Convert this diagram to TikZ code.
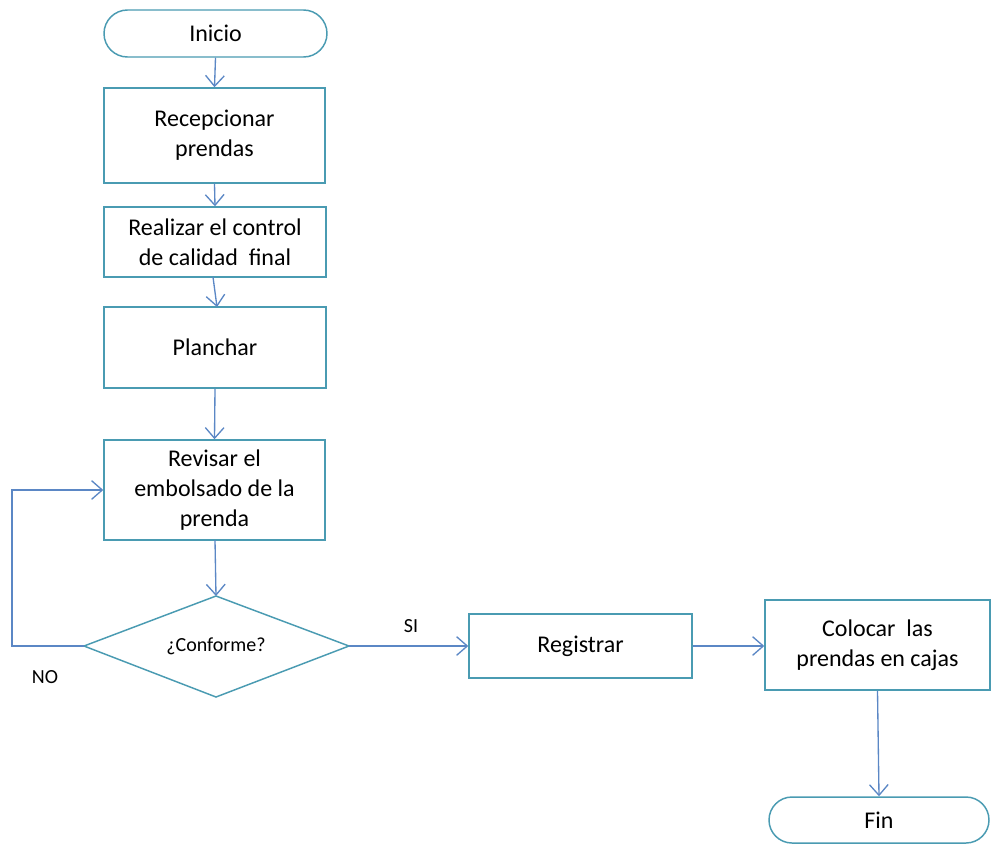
\documentclass[tikz,border=0pt]{standalone}
\usepackage{fontspec}
\setmainfont{Carlito}
\usetikzlibrary{shapes.geometric,shapes.misc,arrows.meta}
\definecolor{boxline}{HTML}{4A9BB2}
\definecolor{flowline}{HTML}{5B87C5}
\begin{document}
\begin{tikzpicture}[x=0.75pt,y=-0.75pt,
  stepbox/.style={draw=boxline,line width=1.1pt,fill=white,align=center,
    font=\fontsize{18}{22.5}\selectfont,inner sep=0pt},
  flow/.style={draw=flowline,line width=1pt,-{Straight Barb[length=8pt,width=14pt,line width=1pt]}},
  small/.style={font=\fontsize{15}{18}\selectfont}]
\useasboundingbox (0,0) rectangle (992,844);
% terminators
\node[stepbox,rounded rectangle,minimum width=167.25pt,minimum height=35.25pt] (ini) at (215.5,33.5) {Inicio};
\node[stepbox,rounded rectangle,minimum width=165pt,minimum height=34.5pt] (fin) at (879,820) {Fin};
% process boxes
\node[stepbox,minimum width=165.75pt,minimum height=71.25pt] (rec) at (214.5,135.5) {Recepcionar\\prendas};
\node[stepbox,minimum width=166.5pt,minimum height=52.5pt] (real) at (215,242) {Realizar el control\\de calidad\ \ final};
\node[stepbox,minimum width=166.5pt,minimum height=60.75pt] (plan) at (215,347.5) {Planchar};
\node[stepbox,minimum width=165.75pt,minimum height=75pt] (rev) at (214.5,490) {Revisar el\\embolsado de la\\prenda};
\node[stepbox,minimum width=167.25pt,minimum height=48pt] (reg) at (580.5,646) {Registrar};
\node[stepbox,minimum width=168.75pt,minimum height=67.5pt] (col) at (877.5,645) {Colocar\ \ las\\prendas en cajas};
% decision
\draw[boxline,line width=1.1pt,fill=white] (84,646) coordinate (dl) -- (216,596) coordinate (dt)
  -- (349,646) coordinate (dr) -- (216,697) coordinate (db) -- cycle;
\node[small] (conf) at (216,646) {¿Conforme?};
% connectors
\draw[flow] (ini.south) -- (rec.north);
\draw[flow] (rec.south) -- (real.north);
\draw[flow] (213,277) -- (217,307);
\draw[flow] (plan.south) -- (rev.north);
\draw[flow] (215,540) -- (dt);
\coordinate (lp1) at (12,646);
\coordinate (lp2) at (12,490);
\draw[flow] (dl) -- (lp1) -- (lp2) -- (rev.west);
\draw[flow] (dr) -- (reg.west);
\draw[flow] (reg.east) -- (reg.east -| col.west);
\draw[flow] (col.south) -- (fin.north);
% branch labels
\node[small] (si) at (411,626) {SI};
\node[small] (no) at (45,677) {NO};
\end{tikzpicture}
\end{document}
